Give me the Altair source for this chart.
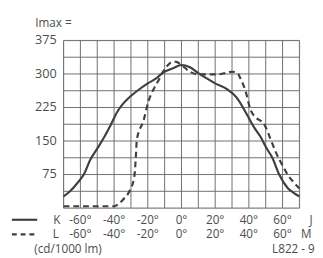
import altair as alt
import pandas as pd

# Curve K (solid)
k_angle = [-70, -66, -62, -58, -54, -50, -46, -42, -38, -35, -32, -29, -26, -20, -15, -11, -5, 0, 5, 10, 15, 20, 27, 33, 38, 43, 47, 50, 54, 58, 63, 67, 70]
k_value = [26, 38, 55, 75, 109, 133, 158, 186, 216, 232, 244, 254, 263, 279, 290, 303, 313, 320, 315, 302, 290, 279, 266, 246, 215, 181, 159, 137, 112, 75, 45, 33, 26]

# Curve L (dashed)
l_angle = [-70, -60, -50, -40, -37, -34, -31, -28, -27, -26.5, -22.5, -19.5, -16, -13, -11, -8, -5, -3, 0, 5, 10, 15, 21, 26, 30, 33, 35, 38, 41, 44, 48, 50, 53, 56, 60, 63, 67, 70]
l_value = [4, 4, 4, 4, 10, 22, 37, 70, 120, 153, 196, 240, 270, 290, 305, 320, 328, 327, 320, 305, 299, 299, 299, 302, 305, 303, 290, 262, 220, 203, 192, 181, 153, 125, 95, 75, 56, 44]

tick_angles = [-60, -40, -20, 0, 20, 40, 60]
tick_labels = ["-60°", "-40°", "-20°", "0°", "20°", "40°", "60°"]
y_label_values = [75, 150, 225, 300, 375]
grid_x = list(range(-70, 71, 10))
grid_y = [i * 37.5 for i in range(11)]

INK = "#3f3f3f"
TXT = "#4d4d4d"
GRID = "#6e6e6e"
FONT = "Open Sans"
FS = 12

curves = pd.DataFrame(
    {"angle": k_angle + l_angle,
     "value": k_value + l_value,
     "series": ["K"] * len(k_angle) + ["L"] * len(l_angle)}
)

xscale = alt.Scale(domain=[-70, 70], nice=False, zero=False)
yscale = alt.Scale(domain=[0, 375], nice=False)

vgrid = alt.Chart(pd.DataFrame({"angle": grid_x})).mark_rule(color=GRID, strokeWidth=1).encode(
    x=alt.X("angle:Q", scale=xscale, axis=None))
hgrid = alt.Chart(pd.DataFrame({"value": grid_y})).mark_rule(color=GRID, strokeWidth=1).encode(
    y=alt.Y("value:Q", scale=yscale, axis=None))

ylabels = alt.Chart(pd.DataFrame({"value": y_label_values})).mark_text(
    font=FONT, fontSize=13, color=TXT, align="right", baseline="middle"
).encode(x=alt.value(-7), y=alt.Y("value:Q", scale=yscale, axis=None), text="value:Q")

base = alt.Chart(curves)
solid = base.transform_filter(alt.datum.series == "K").mark_line(
    color=INK, strokeWidth=2.2, interpolate="monotone"
).encode(x=alt.X("angle:Q", scale=xscale, axis=None),
         y=alt.Y("value:Q", scale=yscale, axis=None))

dashed = base.transform_filter(alt.datum.series == "L").mark_line(
    color=INK, strokeWidth=2.2, strokeDash=[6, 4], interpolate="monotone"
).encode(x=alt.X("angle:Q", scale=xscale, axis=None),
         y=alt.Y("value:Q", scale=yscale, axis=None))

ticks_df = pd.DataFrame({"angle": tick_angles, "label": tick_labels})
row_k = alt.Chart(ticks_df).mark_text(font=FONT, fontSize=FS, color=TXT, baseline="middle").encode(
    x=alt.X("angle:Q", scale=xscale, axis=None), y=alt.value(184), text="label:N")
row_l = alt.Chart(ticks_df).mark_text(font=FONT, fontSize=FS, color=TXT, baseline="middle").encode(
    x=alt.X("angle:Q", scale=xscale, axis=None), y=alt.value(199), text="label:N")

def txt(s, x, y, align="center", size=FS):
    return alt.Chart(pd.DataFrame({"t": [s]})).mark_text(
        font=FONT, fontSize=size, color=TXT, align=align, baseline="middle"
    ).encode(x=alt.value(x), y=alt.value(y), text="t:N")

labels = [
    txt("K", -7, 184), txt("L", -8, 199), txt("J", 254, 184), txt("M", 249, 199),
    txt("(cd/1000 lm)", -30, 214, align="left", size=12),
    txt("L822 - 9", 214, 214, align="left", size=12),
    txt("Imax =", -29, -18, align="left", size=12),
]

sample_solid = alt.Chart(pd.DataFrame({"a": [0]})).mark_rule(color=INK, strokeWidth=2.2).encode(
    x=alt.value(-53), x2=alt.value(-27), y=alt.value(184))
sample_dash = alt.Chart(pd.DataFrame({"a": [0]})).mark_rule(
    color=INK, strokeWidth=2.2, strokeDash=[5, 4]).encode(
    x=alt.value(-53), x2=alt.value(-27), y=alt.value(199))

chart = alt.layer(vgrid, hgrid, ylabels, solid, dashed, row_k, row_l,
                  sample_solid, sample_dash, *labels).properties(
    width=242, height=172,
    autosize=alt.AutoSizeParams(type="none"),
    padding={"left": 57, "top": 30, "right": 16, "bottom": 50},
).configure_view(stroke="#555555", strokeWidth=1.3).configure(background="white")

chart.save("out.html", embed_options={"renderer": "svg", "actions": False})
